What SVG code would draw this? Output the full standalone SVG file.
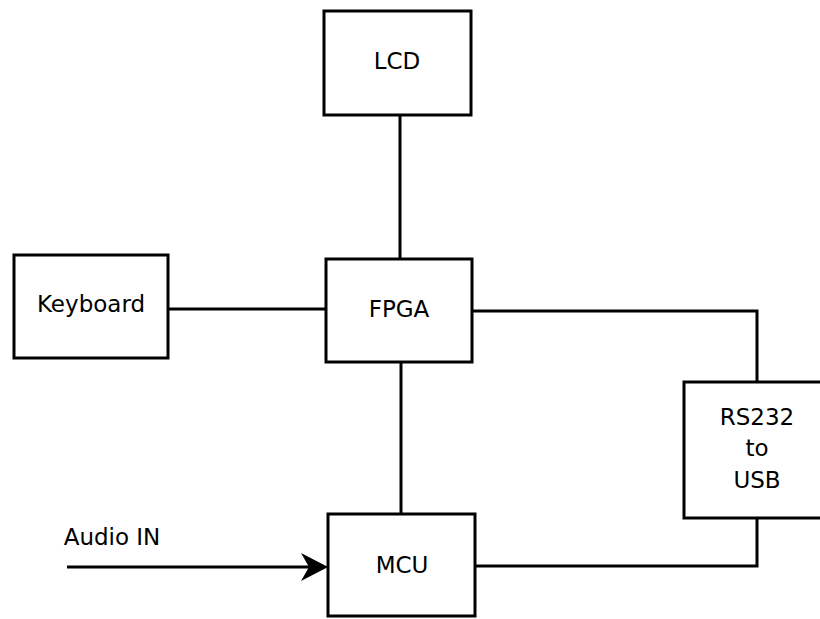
<svg xmlns="http://www.w3.org/2000/svg" width="820" height="619" viewBox="0 0 820 619">
<style>
.box{fill:#fff;stroke:#000;stroke-width:3}
.t{font-family:"DejaVu Sans",sans-serif;font-size:23px;fill:#000;text-anchor:middle}
.c{fill:none;stroke:#000;stroke-width:3}
</style>
<rect width="820" height="619" fill="#fff"/>
<g id="connectors">
<line class="c" x1="400" y1="115" x2="400" y2="259"/>
<line class="c" x1="168" y1="309" x2="326" y2="309"/>
<polyline class="c" points="472,311 757,311 757,382"/>
<line class="c" x1="401" y1="362" x2="401" y2="514"/>
<polyline class="c" points="475,566 757,566 757,518"/>
<line class="c" x1="67" y1="567" x2="310" y2="567"/>
<path d="M328,567 L301,553 L309,567 L301,581 Z" fill="#000"/>
<text class="t" x="112" y="545">Audio IN</text>
</g>
<g id="lcd"><rect class="box" x="324" y="11" width="147" height="104"/><text class="t" x="397" y="69">LCD</text></g>
<g id="keyboard"><rect class="box" x="14" y="255" width="154" height="103"/><text class="t" x="91" y="312">Keyboard</text></g>
<g id="fpga"><rect class="box" x="326" y="259" width="146" height="103"/><text class="t" x="399" y="317">FPGA</text></g>
<g id="mcu"><rect class="box" x="328" y="514" width="147" height="102"/><text class="t" x="402" y="573">MCU</text></g>
<g id="rs232"><rect class="box" x="684" y="382" width="140" height="136"/><text class="t" x="757" y="425">RS232</text><text class="t" x="757" y="456">to</text><text class="t" x="757" y="488">USB</text></g>
</svg>
